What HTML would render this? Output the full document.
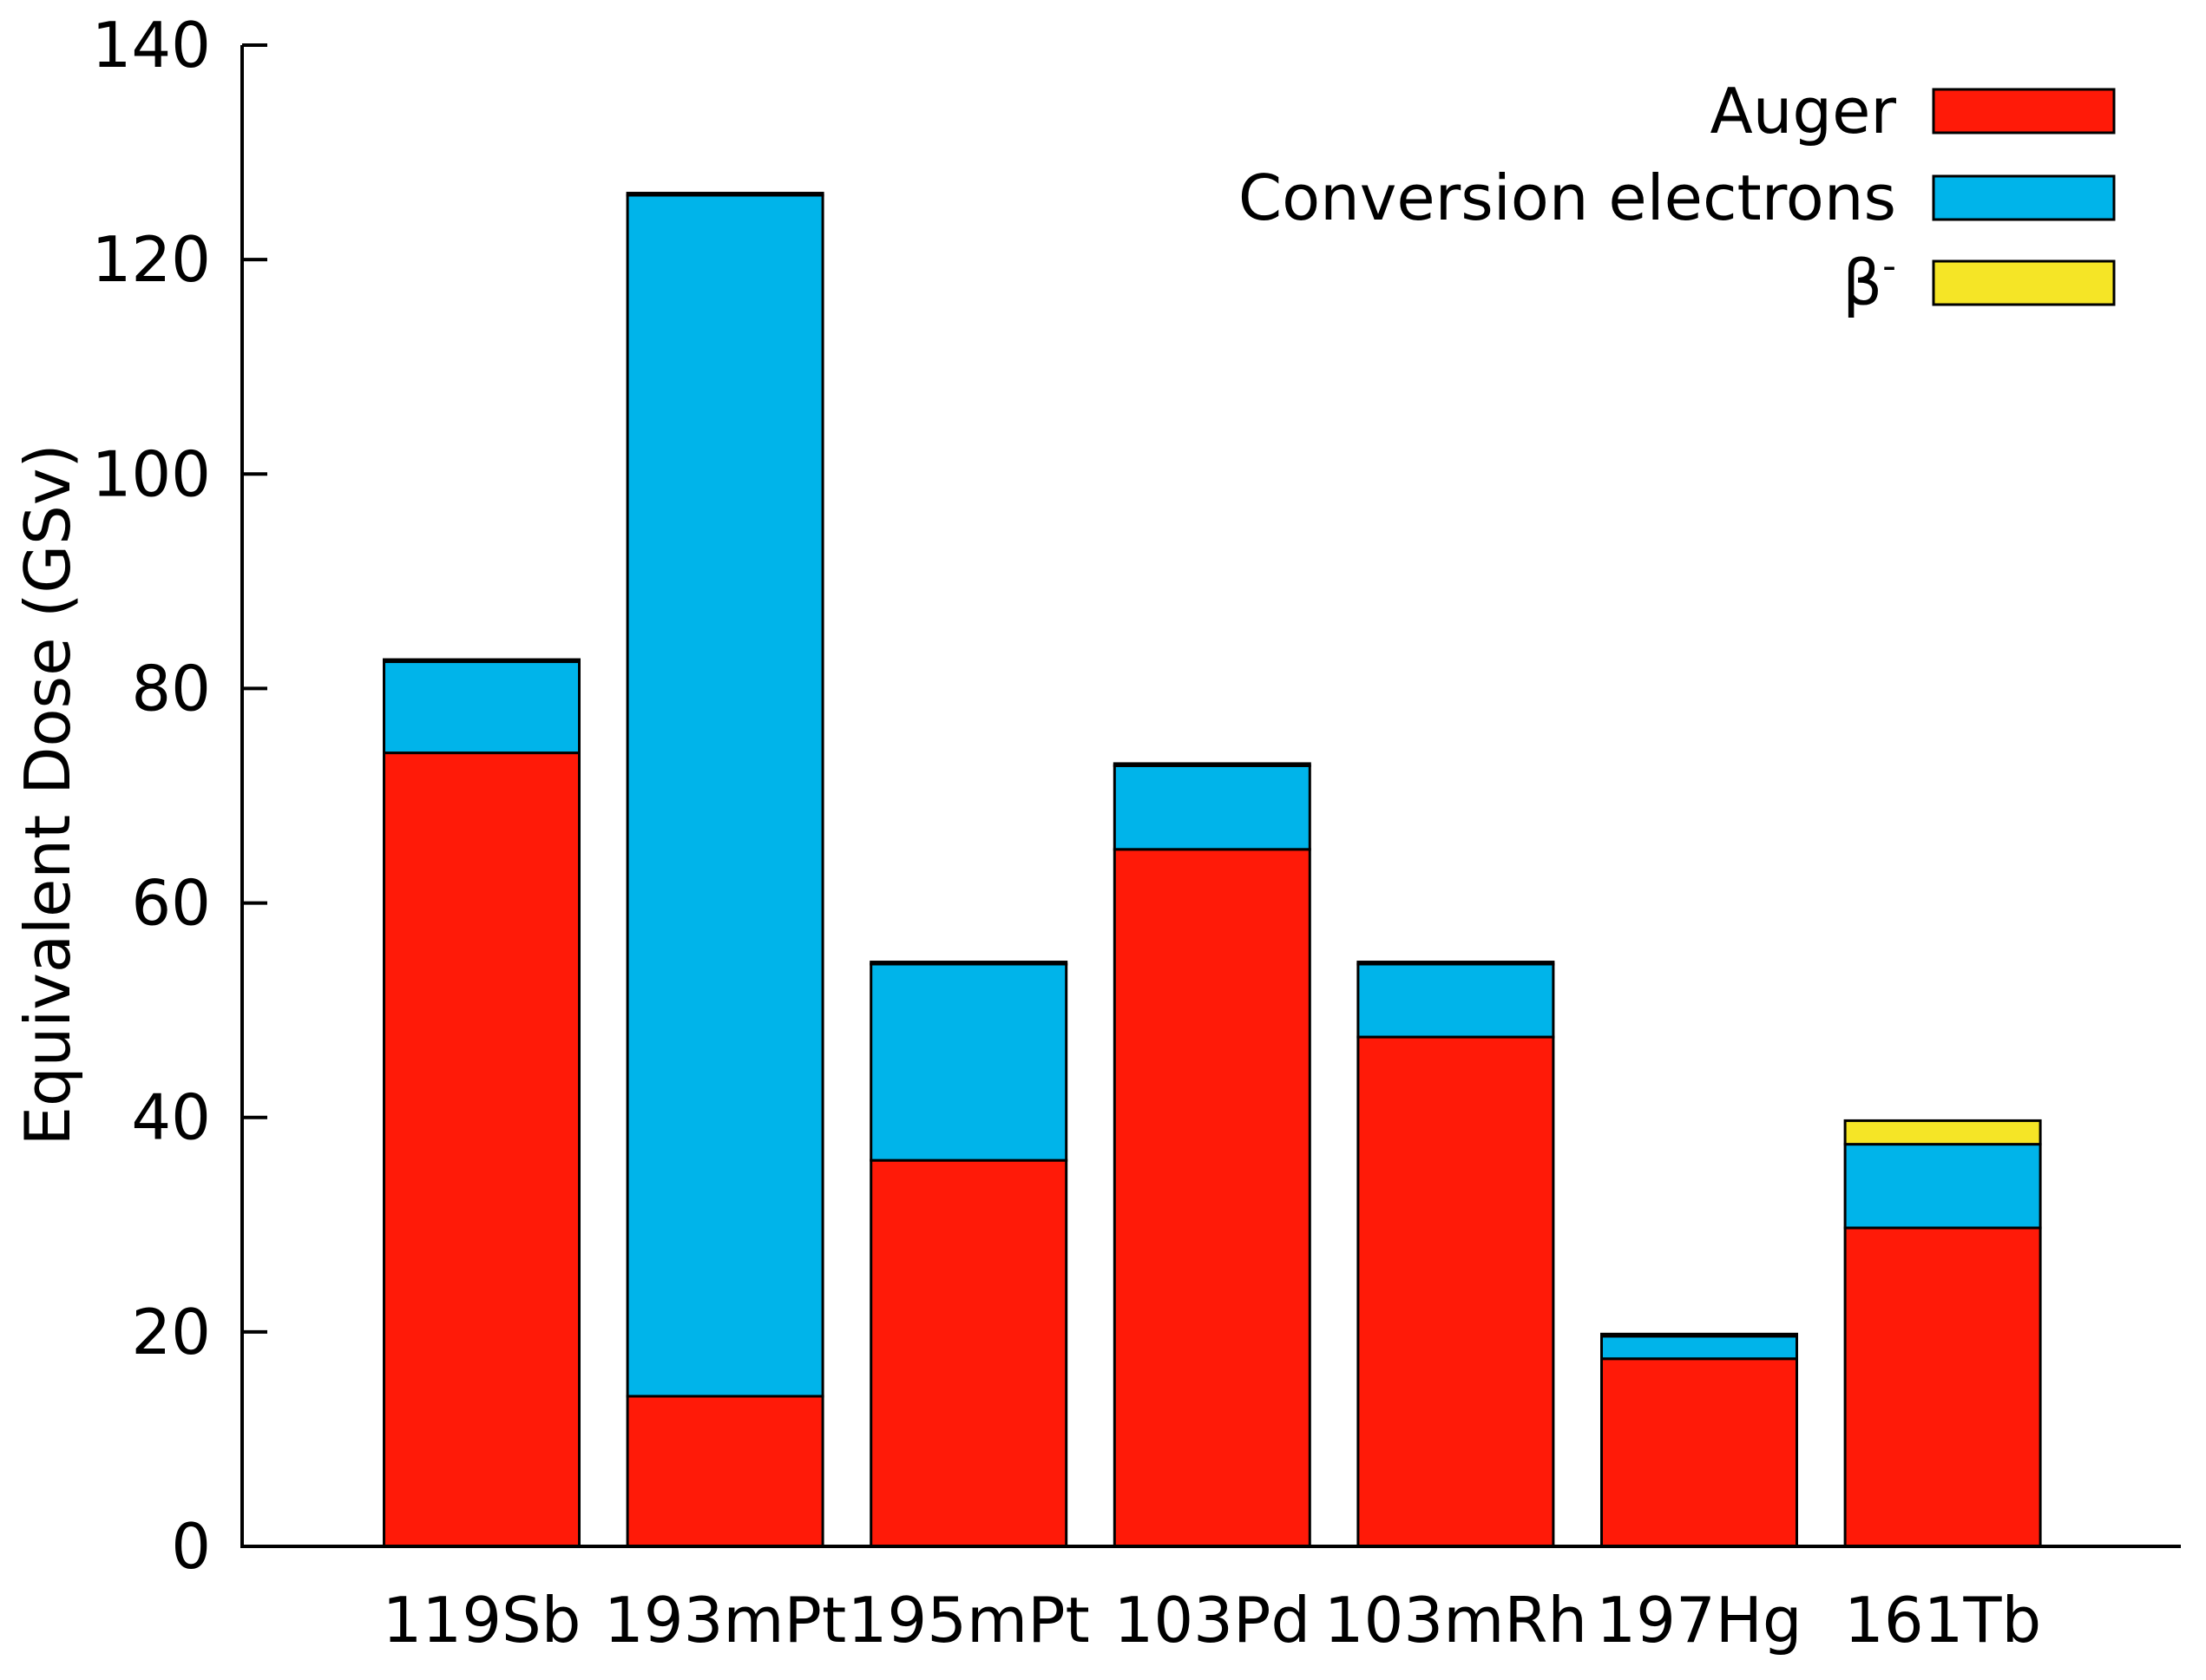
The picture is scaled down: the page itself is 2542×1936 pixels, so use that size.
<!DOCTYPE html>
<html><head><meta charset="utf-8"><style>
html,body{margin:0;padding:0;background:#fff;}
svg text{font-family:"DejaVu Sans","Liberation Sans",sans-serif;fill:#000;}
</style></head><body>
<svg id="chart" width="2542" height="1931" viewBox="0 0 2542 1931" xmlns="http://www.w3.org/2000/svg">
<g id="bars"></g>
<g id="axes"></g>
<g id="legend"></g>
</svg>
<script>
const categories = ["119Sb","193mPt","195mPt","103Pd","103mRh","197Hg","161Tb"];
const auger = [74, 14, 36, 65, 47.5, 17.5, 29.7];
const conversion = [8.5, 112, 18.3, 7.8, 6.8, 2.1, 7.8];
const beta = [0.2, 0.2, 0.2, 0.2, 0.2, 0.2, 2.2];
const yTicks = [0,20,40,60,80,100,120,140];
const seriesNames = ["Auger","Conversion electrons","β"];

const NS="http://www.w3.org/2000/svg";
const X0=279, X1=2513, Y0=1782, Y140=52;
const yScale=v=>Y0-(v/140)*(Y0-Y140);
const xCenter=i=>555+i*280.6;
const BW=225;
const colors=["#ff1a08","#00b4ea","#f5e526"];
function mk(tag,attrs,parent){const e=document.createElementNS(NS,tag);for(const k in attrs)e.setAttribute(k,attrs[k]);parent.appendChild(e);return e;}
const gb=document.getElementById('bars'), ga=document.getElementById('axes'), gl=document.getElementById('legend');
const series=[auger,conversion,beta];
categories.forEach((c,i)=>{
  let base=0;
  series.forEach((s,k)=>{
    const v=s[i];
    const r=mk('rect',{x:xCenter(i)-BW/2,y:yScale(base+v),width:BW,height:yScale(base)-yScale(base+v),fill:colors[k],stroke:'#000','stroke-width':3},gb);
    
    
    base+=v;
  });
  const t=mk('text',{x:xCenter(i),y:1892,'font-size':72,'text-anchor':'middle'},ga);
  t.textContent=c;
  
  
});
const ax=mk('path',{d:`M${X0} ${Y140}V${Y0}H${X1}`,fill:'none',stroke:'#000','stroke-width':4},ga);


yTicks.forEach(v=>{
  const y=yScale(v);
  const l=mk('line',{x1:X0,x2:X0+29,y1:y,y2:y,stroke:'#000','stroke-width':4},ga);
  
  
  const t=mk('text',{x:243,y:y+25,'font-size':72,'text-anchor':'end'},ga);
  t.textContent=v;
  
  
});
const yt=mk('text',{x:0,y:0,'font-size':72,'text-anchor':'middle',transform:'translate(80,916) rotate(-90)'},ga);
yt.textContent='Equivalent Dose (GSv)';


const ly=[128,228,326];
seriesNames.forEach((n,k)=>{
  const r=mk('rect',{x:2228,y:ly[k]-25,width:208,height:50,fill:colors[k],stroke:'#000','stroke-width':3},gl);
  
  
  const t=mk('text',{x:2185,y:ly[k]+25,'font-size':72,'text-anchor':'end'},gl);
  t.textContent=n;
  if(k===2){const s=mk('tspan',{'font-size':44,dy:-30},t);s.textContent='-';}
  
  
});
</script>
</body></html>
